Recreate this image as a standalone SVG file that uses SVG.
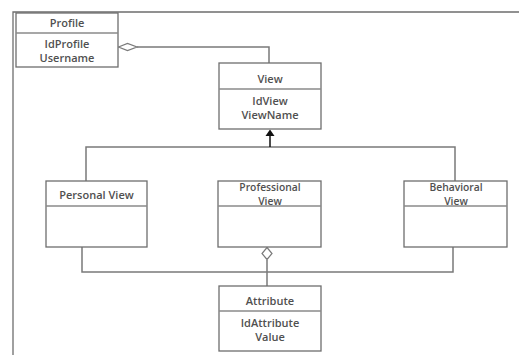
<svg xmlns="http://www.w3.org/2000/svg" width="519" height="355" viewBox="0 0 519 355">
<style>
.box{fill:#fff;stroke:#6e6e6e;stroke-width:1.3}
.div{stroke:#8a8a8a;stroke-width:1.3}
.ln{fill:none;stroke:#7a7a7a;stroke-width:1.5}
.t{font-family:"Open Sans","Liberation Sans",sans-serif;font-size:11px;font-weight:600;fill:#505050;text-anchor:middle}
.s{font-size:10.3px}
</style>
<rect width="519" height="355" fill="#fff"/>
<path d="M13,355 V12 H519" fill="none" stroke="#6e6e6e" stroke-width="1.3"/>
<g id="connectors">
<path class="ln" d="M137,47 H269 V63"/>
<path d="M118.5,47 L127.5,43.5 L137,47 L127.5,50.5 Z" fill="#fff" stroke="#7a7a7a" stroke-width="1.2"/>
<path class="ln" d="M86,181 V147 H455 V181"/>
<path d="M270,147 V131" stroke="#111" stroke-width="1.5" fill="none"/>
<path d="M265.5,136 L270,129.5 L274.5,136 Z" fill="#111"/>
<path class="ln" d="M82,247 V272 H453 V247"/>
<path class="ln" d="M267,260 V286"/>
<path d="M267,247.5 L272,253.5 L267,259.5 L262,253.5 Z" fill="#fff" stroke="#7a7a7a" stroke-width="1.2"/>
</g>
<g id="profile">
<rect class="box" x="16" y="13" width="102" height="54"/>
<line class="div" x1="16" y1="33" x2="118" y2="33"/>
<text class="t" x="67" y="27">Profile</text>
<text class="t" x="67" y="48">IdProfile</text>
<text class="t" x="67" y="61.5">Username</text>
</g>
<g id="view">
<rect class="box" x="219" y="63" width="102" height="66"/>
<line class="div" x1="219" y1="89" x2="321" y2="89"/>
<text class="t" x="270" y="83">View</text>
<text class="t" x="270" y="105">IdView</text>
<text class="t" x="270" y="118.5">ViewName</text>
</g>
<g id="personal-view">
<rect class="box" x="46" y="181" width="101" height="66"/>
<line class="div" x1="46" y1="206" x2="147" y2="206"/>
<text class="t" x="96.5" y="199">Personal View</text>
</g>
<g id="professional-view">
<rect class="box" x="218" y="181" width="103" height="66"/>
<line class="div" x1="218" y1="206" x2="321" y2="206"/>
<text class="t s" x="270" y="191">Professional</text>
<text class="t s" x="270" y="205">View</text>
</g>
<g id="behavioral-view">
<rect class="box" x="404" y="181" width="103" height="66"/>
<line class="div" x1="404" y1="206" x2="507" y2="206"/>
<text class="t s" x="456" y="191">Behavioral</text>
<text class="t s" x="456" y="205">View</text>
</g>
<g id="attribute">
<rect class="box" x="219" y="286" width="102" height="65"/>
<line class="div" x1="219" y1="311" x2="321" y2="311"/>
<text class="t" x="270" y="305">Attribute</text>
<text class="t" x="270" y="327">IdAttribute</text>
<text class="t" x="270" y="340.5">Value</text>
</g>
</svg>
